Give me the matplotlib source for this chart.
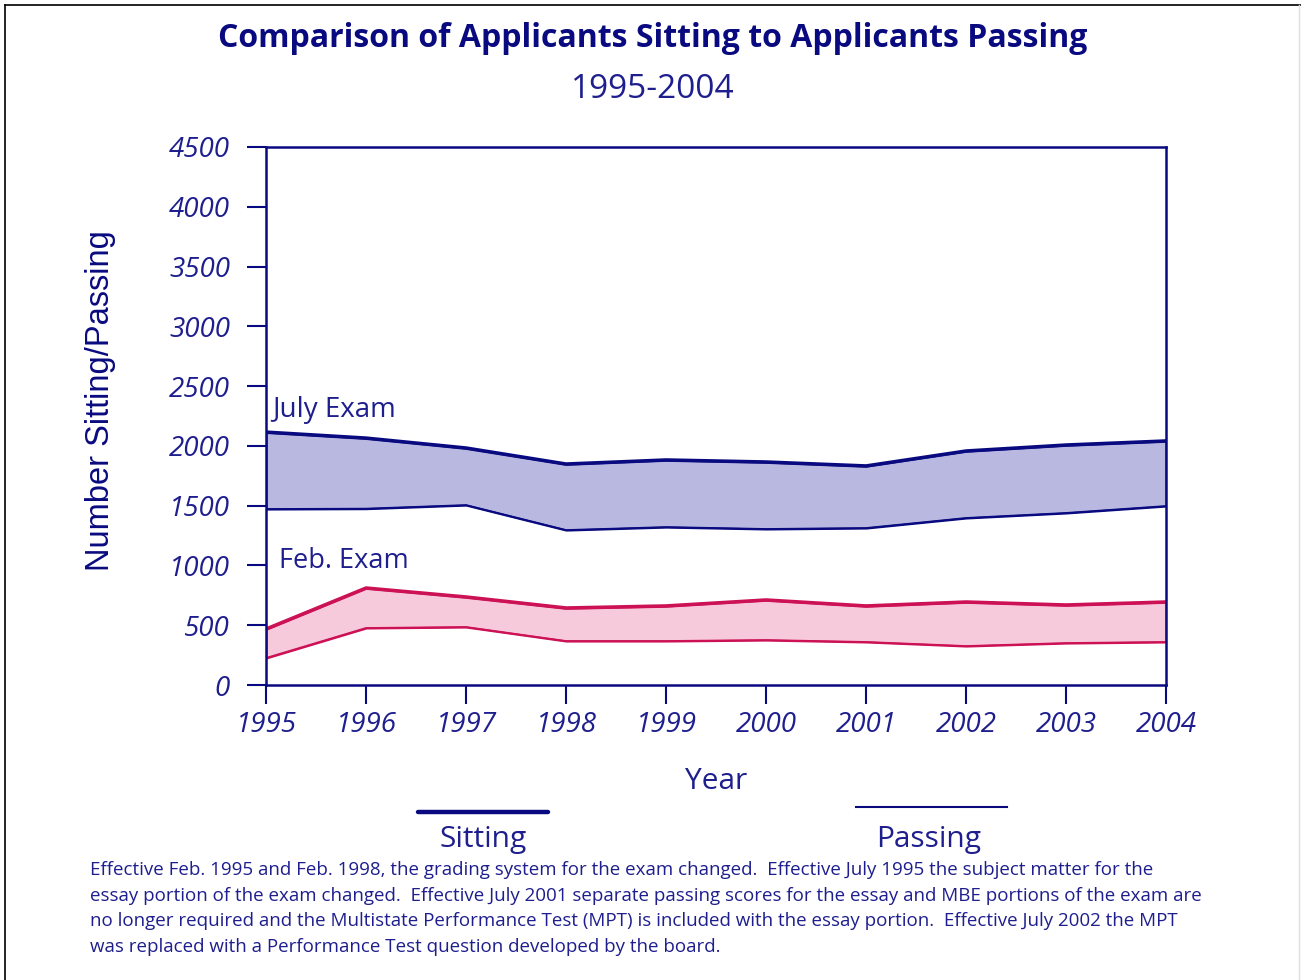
import matplotlib
matplotlib.use("Agg")
import matplotlib.pyplot as plt
from matplotlib.lines import Line2D

# data
years = [1995, 1996, 1997, 1998, 1999, 2000, 2001, 2002, 2003, 2004]
july_sitting = [2115, 2065, 1982, 1848, 1882, 1865, 1832, 1957, 2007, 2041]
july_passing = [1472, 1475, 1505, 1296, 1321, 1305, 1313, 1397, 1439, 1497]
feb_sitting = [468, 811, 736, 644, 661, 711, 661, 694, 669, 694]
feb_passing = [226, 477, 485, 368, 368, 376, 360, 326, 351, 360]
y_ticks = [0, 500, 1000, 1500, 2000, 2500, 3000, 3500, 4000, 4500]

footnote = [
    "Effective Feb. 1995 and Feb. 1998, the grading system for the exam changed.  Effective July 1995 the subject matter for the",
    "essay portion of the exam changed.  Effective July 2001 separate passing scores for the essay and MBE portions of the exam are",
    "no longer required and the Multistate Performance Test (MPT) is included with the essay portion.  Effective July 2002 the MPT",
    "was replaced with a Performance Test question developed by the board.",
]

navy = "#0a0a80"
crimson = "#cc1155"
txt = "#1e1e8e"
font = "Open Sans"

fig = plt.figure(figsize=(13.01, 9.8), dpi=100)
ax = fig.add_axes([0.2045, 0.301, 0.6918, 0.549])

# July band
ax.fill_between(years, july_passing, july_sitting, facecolor="#b8b8e0",
                edgecolor=navy, linewidth=1.5)
ax.plot(years, july_sitting, color=navy, linewidth=2.6, solid_capstyle="butt")
ax.plot(years, july_passing, color=navy, linewidth=1.3)

# Feb band
ax.fill_between(years, feb_passing, feb_sitting, facecolor="#f7cadb",
                edgecolor=crimson, linewidth=1.5)
ax.plot(years, feb_sitting, color=crimson, linewidth=2.6, solid_capstyle="butt")
ax.plot(years, feb_passing, color=crimson, linewidth=1.3)

ax.text(1995.06, 2240, "July Exam", fontsize=20, color=txt, family=font)
ax.text(1995.13, 975, "Feb. Exam", fontsize=19.5, color=txt, family=font)

ax.set_xlim(1995, 2004)
ax.set_ylim(0, 4500)
ax.set_xticks(years)
ax.set_yticks(y_ticks)
ax.set_xticklabels([str(y) for y in years], fontsize=20, color=txt, family=font, style="italic")
ax.set_yticklabels([str(v) for v in y_ticks], fontsize=20, color=txt, family=font, style="italic")
ax.tick_params(axis="both", colors=navy, length=14, width=1.5, direction="out", pad=5)
ax.tick_params(axis="x", labelcolor=txt)
ax.tick_params(axis="y", labelcolor=txt, pad=12)
for s in ax.spines.values():
    s.set_color(navy)
    s.set_linewidth(1.8)

ax.set_ylabel("Number Sitting/Passing", fontsize=23.5, color=navy,
              family="Liberation Sans")
ax.yaxis.set_label_coords(-0.167, 0.528)
ax.set_xlabel("Year", fontsize=21.5, color=txt, family=font, labelpad=20)

fig.text(0.502, 0.961, "Comparison of Applicants Sitting to Applicants Passing",
         ha="center", va="center", fontsize=23, fontweight="bold", color=navy, family=font)
fig.text(0.502, 0.909, "1995-2004", ha="center", va="center", fontsize=24,
         color=txt, family=font)

# legend
fig.add_artist(Line2D([418 / 1301, 548 / 1301], [1 - 812 / 980] * 2, color=navy,
                      linewidth=3.2, solid_capstyle="round"))
fig.add_artist(Line2D([856 / 1301, 1007 / 1301], [1 - 807 / 980] * 2, color=navy,
                      linewidth=1.5))
fig.text(483 / 1301, 1 - 840 / 980, "Sitting", ha="center", va="center",
         fontsize=21.5, color=txt, family=font)
fig.text(929 / 1301, 1 - 840 / 980, "Passing", ha="center", va="center",
         fontsize=21.5, color=txt, family=font)

for i, line in enumerate(footnote):
    fig.text(90 / 1301, 1 - (870 + 25.7 * i) / 980, line, ha="left", va="center",
             fontsize=13.5, color=txt, family=font)

# outer frame
fig.add_artist(Line2D([5 / 1301, 5 / 1301], [0, 1 - 5 / 980], color="black", linewidth=1.2))
fig.add_artist(Line2D([5 / 1301, 1], [1 - 5 / 980] * 2, color="black", linewidth=1.2))
fig.add_artist(Line2D([1299 / 1301] * 2, [0, 1 - 5 / 980], color="#dddddd", linewidth=1))

fig.savefig("out.png", dpi=100)
